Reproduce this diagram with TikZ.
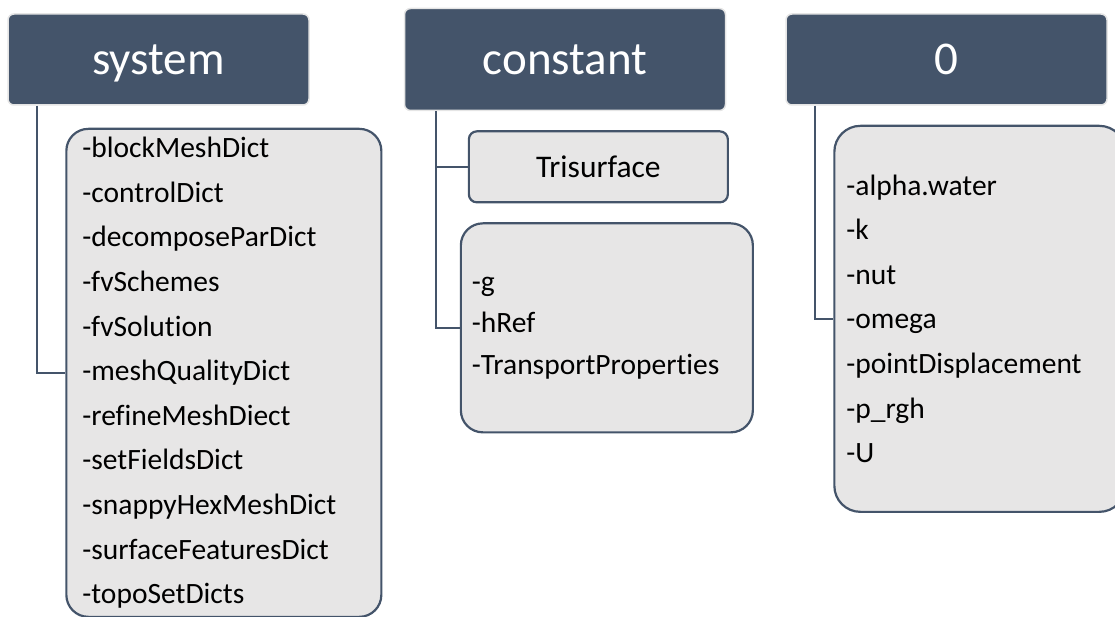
\documentclass[tikz,border=0pt]{standalone}
\usepackage{fontspec}
\setmainfont[Ligatures={NoCommon}]{Carlito}
\usepackage{tikz}
\usetikzlibrary{shapes, positioning}

\definecolor{slate}{HTML}{44546A}
\definecolor{paper}{HTML}{E7E6E6}

\tikzset{
	head/.style={rectangle, rounded corners=6pt, fill=slate, draw=gray!20, line width=1.5pt, text=white, font=\fontsize{47}{50}\selectfont, text depth=0pt, minimum height=91pt, inner sep=0pt},
	listbox/.style={rectangle, fill=paper, draw=slate, line width=2.2pt, align=left, font=\fontsize{29.5}{44.6}\selectfont},
	link/.style={draw=slate, line width=2.2pt}
}

\begin{document}
\begin{tikzpicture}
			\useasboundingbox (0,0) rectangle (1115pt,-617pt);

			% Nodes
			\node (sysHead) [head, minimum width=301pt] at (158.5pt,-59.5pt) {system};
			\node (constHead) [head, minimum width=321pt, minimum height=102pt, right=94pt of sysHead] {constant};
			\node (zeroHead) [head, minimum width=321pt, right=59pt of constHead] {0};

			\node (sysList) [listbox, rounded corners=22pt, minimum width=315pt, minimum height=488pt, text width=283pt, inner xsep=16pt, below right=22pt and 58pt of sysHead.south west] {-blockMeshDict\\-controlDict\\-decomposeParDict\\-fvSchemes\\-fvSolution\\-meshQualityDict\\-refineMeshDiect\\-setFieldsDict\\-snappyHexMeshDict\\-surfaceFeaturesDict\\-topoSetDicts};
			\node (trisurf) [listbox, rounded corners=8pt, align=center, minimum width=259pt, minimum height=71pt, font=\fontsize{31.5}{36}\selectfont, below right=19pt and 64pt of constHead.south west] {Trisurface};
			\node (constList) [listbox, rounded corners=22pt, minimum width=292pt, minimum height=209pt, text width=270pt, inner xsep=11pt, font=\fontsize{29.5}{41.5}\selectfont, below right=111pt and 56pt of constHead.south west] {-g\\-hRef\\-TransportProperties};
			\node (zeroList) [listbox, rounded corners=26pt, minimum width=291pt, minimum height=386pt, text width=267pt, inner xsep=12pt, below right=19pt and 48pt of zeroHead.south west] {-alpha.water\\-k\\-nut\\-omega\\-pointDisplacement\\-p\_rgh\\-U};

			% Edges
			\draw [link] ([xshift=30pt]sysHead.south west) |- (sysList.west);
			\draw [link] ([xshift=32pt]constHead.south west) |- (trisurf.west);
			\draw [link] ([xshift=32pt]constHead.south west) |- (constList.west);
			\draw [link] ([xshift=30pt]zeroHead.south west) |- (zeroList.west);

		\end{tikzpicture}
\end{document}
